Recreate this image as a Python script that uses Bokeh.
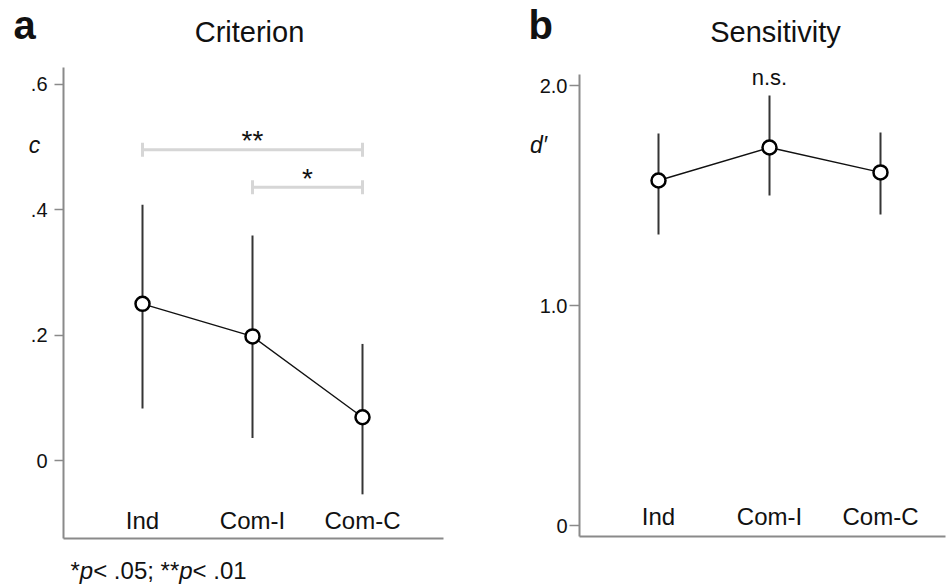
from bokeh.plotting import figure
from bokeh.models import Range1d, FixedTicker, Label, Whisker, TeeHead, ColumnDataSource
from bokeh.layouts import row
from bokeh.core.properties import value
from bokeh.embed import file_html
from bokeh.resources import INLINE

# ---------------- data ----------------
categories = ["Ind", "Com-I", "Com-C"]

crit_mean = [0.250, 0.198, 0.069]
crit_low = [0.083, 0.036, -0.054]
crit_high = [0.408, 0.359, 0.186]

sens_mean = [1.568, 1.718, 1.605]
sens_low = [1.323, 1.500, 1.414]
sens_high = [1.782, 1.955, 1.786]

crit_ticks = [0, 0.2, 0.4, 0.6]
crit_tick_labels = ["0", ".2", ".4", ".6"]
crit_bounds = (-0.1245, 0.627)

sens_ticks = [0, 1, 2]
sens_tick_labels = ["0", "1.0", "2.0"]
sens_bounds = (-0.05, 2.05)

sig_start = ["Ind", "Com-I"]
sig_end = ["Com-C", "Com-C"]
sig_level = [0.496, 0.436]
sig_marks = ["**", "*"]

ns_text = "n.s."

FONT = "Liberation Sans"
AXIS_GRAY = "#8a8a8a"
TEXT = "#111111"
H = 588
BASE_SHIFT = 0.4  # em correction so that labels sit on the wanted baseline


def make_panel(width, first_px, cat_px, zero_px, unit_px, xbounds, ybounds,
               ticks, tick_labels, mean, low, high, tick_out, ylab_standoff, xlab_standoff):
    """first_px: screen x of first category; zero_px: screen y of value 0 (from top)."""
    xr = Range1d(1 - first_px / cat_px, 1 + (width - first_px) / cat_px)
    yr = Range1d(-(H - zero_px) / unit_px, zero_px / unit_px)
    p = figure(width=width, height=H, output_backend="svg", toolbar_location=None,
               x_range=xr, y_range=yr,
               min_border_left=0, min_border_right=0, min_border_top=0, min_border_bottom=0)
    p.outline_line_color = None
    p.grid.visible = False
    p.background_fill_color = "white"
    p.border_fill_color = "white"

    xs = list(range(1, len(categories) + 1))

    xa = p.xaxis[0]
    xa.fixed_location = ybounds[0]
    xa.bounds = xbounds
    xa.ticker = FixedTicker(ticks=xs)
    xa.major_label_overrides = {x: c for x, c in zip(xs, categories)}
    xa.major_tick_line_color = None
    xa.minor_tick_line_color = None
    xa.major_tick_out = 0
    xa.major_tick_in = 0
    xa.major_label_standoff = xlab_standoff
    xa.major_label_text_font = FONT
    xa.major_label_text_font_size = "24px"
    xa.major_label_text_color = TEXT
    xa.axis_line_color = AXIS_GRAY
    xa.axis_line_width = 2

    ya = p.yaxis[0]
    ya.fixed_location = xbounds[0]
    ya.bounds = ybounds
    ya.ticker = FixedTicker(ticks=ticks)
    ya.major_label_overrides = {t: l for t, l in zip(ticks, tick_labels)}
    ya.minor_tick_line_color = None
    ya.major_tick_out = tick_out
    ya.major_tick_in = 0
    ya.major_tick_line_color = AXIS_GRAY
    ya.major_tick_line_width = 1.5
    ya.major_label_standoff = ylab_standoff
    ya.major_label_text_font = FONT
    ya.major_label_text_font_size = "20px"
    ya.major_label_text_color = TEXT
    ya.axis_line_color = AXIS_GRAY
    ya.axis_line_width = 2

    p.segment(x0=xs, y0=low, x1=xs, y1=high, line_color="#353535", line_width=2)
    p.line(xs, mean, line_color="#111111", line_width=1.4)
    p.scatter(xs, mean, size=14, fill_color="white", line_color="#000000", line_width=2.5)
    return p


def label(p, x, y_from_top, text, size_px, style="normal", align="left", x_units="screen"):
    p.add_layout(Label(x=x, y=H - y_from_top + BASE_SHIFT * size_px,
                       x_units=x_units, y_units="screen", text=text,
                       text_font=FONT, text_font_size=f"{size_px}px", text_font_style=style,
                       text_color=TEXT, text_align=align, text_baseline="alphabetic"))


# ---------------- panel a ----------------
A_UNIT = 626.7
pa = make_panel(490, 142, 110, 460, A_UNIT, (0.282, 3.736), crit_bounds,
                crit_ticks, crit_tick_labels, crit_mean, crit_low, crit_high,
                tick_out=9, ylab_standoff=7, xlab_standoff=-32)

idx = {c: i + 1 for i, c in enumerate(categories)}
sig_src = ColumnDataSource(dict(
    base=sig_level,
    lower=[idx[c] for c in sig_start],
    upper=[idx[c] for c in sig_end],
    mid=[(idx[a] + idx[b]) / 2 for a, b in zip(sig_start, sig_end)],
    mark_y=[lv + 9 / A_UNIT for lv in sig_level],
    mark=sig_marks,
))
GRAY_BR = "#d6d6d6"
pa.add_layout(Whisker(base="base", lower="lower", upper="upper", dimension="width",
                      source=sig_src, line_color=GRAY_BR, line_width=3,
                      lower_head=TeeHead(size=14, line_color=GRAY_BR, line_width=3),
                      upper_head=TeeHead(size=14, line_color=GRAY_BR, line_width=3)))
pa.text(x="mid", y="mark_y", text="mark", source=sig_src, text_align="center",
        text_baseline="alphabetic", text_font_size="28px", text_color=TEXT,
        text_font=value(FONT))

label(pa, 13, 40, "a", 40, "bold")
label(pa, 249, 43, "Criterion", 29, align="center")
label(pa, 34, 154, "c", 23, "italic", align="center")

# footnote: "*p< .05; **p< .01" with italic p
FOOT = 24
foot_parts = [("*", "normal", 0.389), ("p", "italic", 0.556), ("< .05; **", "normal", 3.586),
              ("p", "italic", 0.556), ("< .01", "normal", 2.252)]
fx = 70.0
for txt, style, w in foot_parts:
    label(pa, fx, 580, txt, FOOT, style)
    fx += w * FOOT

# ---------------- panel b ----------------
pb = make_panel(459, 168, 111, 525, 220, (0.2883, 3.5856), sens_bounds,
                sens_ticks, sens_tick_labels, sens_mean, sens_low, sens_high,
                tick_out=10, ylab_standoff=2, xlab_standoff=-34)

label(pb, 38, 40, "b", 40, "bold")
label(pb, 285, 43, "Sensitivity", 29, align="center")
label(pb, 48, 154, "d\u2032", 23, "italic", align="center")
label(pb, idx["Com-I"], 86, ns_text, 22, align="center", x_units="data")

layout = row(pa, pb)
open("out.html", "w").write(file_html(layout, INLINE))
